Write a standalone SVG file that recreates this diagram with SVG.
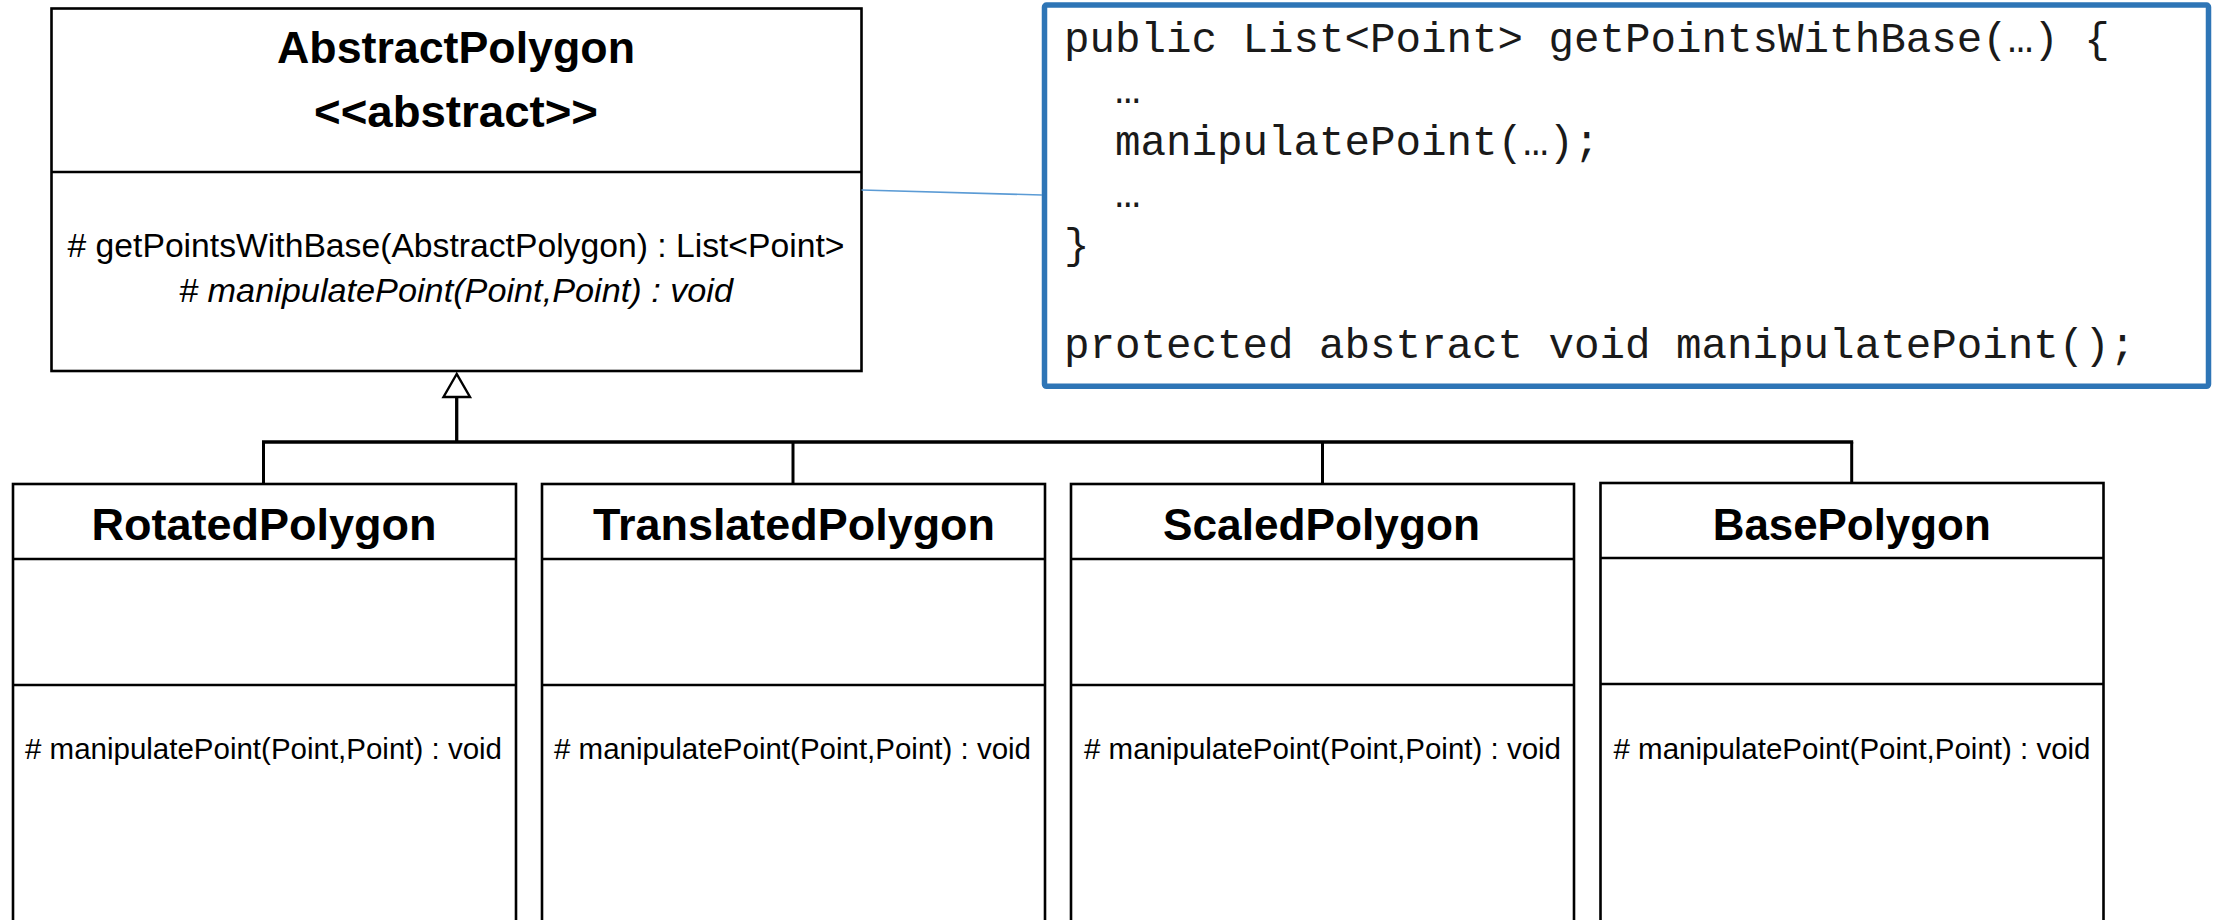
<svg xmlns="http://www.w3.org/2000/svg" width="2216" height="920" viewBox="0 0 2216 920">
<style>
.box{fill:#fff;stroke:#000;stroke-width:2.6}
.div{stroke:#000;stroke-width:2.6}
.title{font-family:"Liberation Sans",Arial,sans-serif;font-weight:bold;font-size:45px;fill:#000;text-anchor:middle}
.meth{font-family:"Liberation Sans",Arial,sans-serif;font-size:30px;fill:#000;text-anchor:middle}
.ameth{font-family:"Liberation Sans",Arial,sans-serif;font-size:33px;fill:#000;text-anchor:middle}
.code{font-family:"Liberation Mono","Courier New",monospace;font-size:42.5px;fill:#1a1a1a}
.conn{stroke:#000;fill:none}
</style>
<g id="AbstractPolygon">
<rect class="box" x="51.5" y="8.5" width="810" height="362.5"/>
<line class="div" x1="51.5" y1="172" x2="861.5" y2="172"/>
<text class="title" x="456" y="63" textLength="358" lengthAdjust="spacingAndGlyphs">AbstractPolygon</text>
<text class="title" x="456" y="127" textLength="284" lengthAdjust="spacingAndGlyphs">&lt;&lt;abstract&gt;&gt;</text>
<text class="ameth" x="456" y="257" textLength="777" lengthAdjust="spacingAndGlyphs"># getPointsWithBase(AbstractPolygon) : List&lt;Point&gt;</text>
<text class="ameth" x="456" y="302" font-style="italic" textLength="554" lengthAdjust="spacingAndGlyphs"># manipulatePoint(Point,Point) : void</text>
</g>
<g id="CodeNote">
<rect x="1044.5" y="5" width="1164" height="381.3" rx="2" fill="#fff" stroke="#2E75B6" stroke-width="5.5"/>
<text class="code" x="1064" y="52">public List&lt;Point&gt; getPointsWithBase(…) {</text>
<text class="code" x="1115" y="103">…</text>
<text class="code" x="1115" y="155">manipulatePoint(…);</text>
<text class="code" x="1115" y="207">…</text>
<text class="code" x="1064" y="258">}</text>
<text class="code" x="1064" y="358">protected abstract void manipulatePoint();</text>
</g>
<g id="RotatedPolygon">
<rect class="box" x="13" y="484" width="503" height="450"/>
<line class="div" x1="13" y1="559" x2="516" y2="559"/>
<line class="div" x1="13" y1="685" x2="516" y2="685"/>
<text class="title" x="264" y="540" textLength="345" lengthAdjust="spacingAndGlyphs">RotatedPolygon</text>
<text class="meth" x="263.5" y="759" textLength="477" lengthAdjust="spacingAndGlyphs"># manipulatePoint(Point,Point) : void</text>
</g>
<g id="TranslatedPolygon">
<rect class="box" x="542" y="484" width="503" height="450"/>
<line class="div" x1="542" y1="559" x2="1045" y2="559"/>
<line class="div" x1="542" y1="685" x2="1045" y2="685"/>
<text class="title" x="794" y="540" textLength="402" lengthAdjust="spacingAndGlyphs">TranslatedPolygon</text>
<text class="meth" x="792.5" y="759" textLength="477" lengthAdjust="spacingAndGlyphs"># manipulatePoint(Point,Point) : void</text>
</g>
<g id="ScaledPolygon">
<rect class="box" x="1071" y="484" width="503" height="450"/>
<line class="div" x1="1071" y1="559" x2="1574" y2="559"/>
<line class="div" x1="1071" y1="685" x2="1574" y2="685"/>
<text class="title" x="1321.5" y="540" textLength="317" lengthAdjust="spacingAndGlyphs">ScaledPolygon</text>
<text class="meth" x="1322.5" y="759" textLength="477" lengthAdjust="spacingAndGlyphs"># manipulatePoint(Point,Point) : void</text>
</g>
<g id="BasePolygon">
<rect class="box" x="1600.5" y="483" width="503" height="450"/>
<line class="div" x1="1600.5" y1="558" x2="2103.5" y2="558"/>
<line class="div" x1="1600.5" y1="684" x2="2103.5" y2="684"/>
<text class="title" x="1851.7" y="540" textLength="278" lengthAdjust="spacingAndGlyphs">BasePolygon</text>
<text class="meth" x="1852" y="759" textLength="477" lengthAdjust="spacingAndGlyphs"># manipulatePoint(Point,Point) : void</text>
</g>
<g id="connectors">
<line x1="861.5" y1="190" x2="1042" y2="195" stroke="#5B9BD5" stroke-width="1.6"/>
<line class="conn" x1="456.7" y1="397" x2="456.7" y2="442" stroke-width="3.3"/>
<line class="conn" x1="262" y1="442" x2="1853.2" y2="442" stroke-width="3.6"/>
<line class="conn" x1="263.5" y1="442" x2="263.5" y2="484" stroke-width="3"/>
<line class="conn" x1="793" y1="442" x2="793" y2="484" stroke-width="3"/>
<line class="conn" x1="1322.5" y1="442" x2="1322.5" y2="484" stroke-width="3"/>
<line class="conn" x1="1851.7" y1="442" x2="1851.7" y2="483" stroke-width="3"/>
<polygon points="456.7,374 443.5,397 470,397" fill="#fff" stroke="#000" stroke-width="2.4" stroke-linejoin="miter"/>
</g>
</svg>
